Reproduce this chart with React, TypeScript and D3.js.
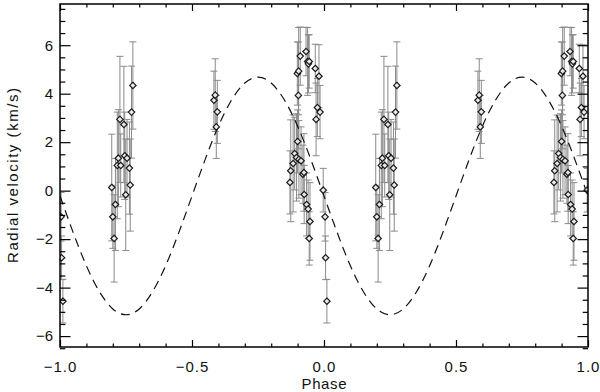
import { useEffect, useRef } from 'react'
import * as d3 from 'd3'

// observations, folded on phase 0..1 (drawn at phase and phase - 1)
const obsPhase = [
  0.196, 0.200, 0.205, 0.210, 0.217, 0.221, 0.227, 0.230, 0.242, 0.245, 0.249, 0.254, 0.263, 0.266, 0.271, 0.276,
  0.583, 0.588, 0.592, 0.596,
  0.871, 0.874, 0.883, 0.889, 0.896, 0.899, 0.900, 0.903, 0.904, 0.905, 0.910, 0.913, 0.920, 0.924, 0.925,
  0.932, 0.934, 0.938, 0.940, 0.941, 0.944, 0.944, 0.947, 0.967, 0.970, 0.975, 0.981, 0.985, 0.997,
  0.004, 0.006, 0.011,
]
const obsVel = [
  0.13, -1.08, -1.97, -0.57, 1.04, 1.34, 2.94, 1.04, 2.73, 1.44, -0.17, 1.34, 0.93, 0.23, 3.24, 4.34,
  3.73, 3.94, 2.63, 3.25,
  0.34, 0.82, 1.12, 1.53, 1.37, 4.83, 2.03, 3.93, 4.93, 1.29, 5.55, 1.23, 0.68, 0.75, -0.16,
  5.74, -0.57, 5.33, -0.76, 5.23, 5.33, -1.97, -1.27, 5.04, 2.94, 3.43, 4.72, 3.24, 0.02,
  -1.08, -2.77, -4.56,
]
const obsErr = [
  2.2, 1.3, 1.8, 1.9, 2.2, 2.0, 2.6, 1.3, 2.4, 1.8, 2.3, 1.6, 1.9, 1.9, 1.9, 1.8,
  1.2, 1.5, 1.3, 1.3,
  1.3, 2.1, 2.0, 1.5, 1.8, 1.3, 1.3, 2.2, 1.8, 1.6, 1.2, 1.4, 1.2, 1.6, 1.2,
  1.0, 1.3, 1.4, 1.2, 1.2, 1.1, 1.1, 1.6, 1.0, 1.5, 1.2, 1.3, 1.1, 0.9,
  1.0, 0.9, 0.9,
]

// fitted orbit, one period
const modelPhase = [0, 0.05, 0.1, 0.15, 0.2, 0.25, 0.3, 0.35, 0.4, 0.45, 0.5, 0.55, 0.6, 0.65, 0.7, 0.75, 0.8, 0.85, 0.9, 0.95, 1.0]
const modelVel = [-0.22, -1.73, -3.10, -4.18, -4.88, -5.12, -4.88, -4.18, -3.10, -1.73, -0.22, 1.29, 2.66, 3.74, 4.44, 4.68, 4.44, 3.74, 2.66, 1.29, -0.22]

const xTicks = [-1, -0.5, 0, 0.5, 1]
const yTicks = [-6, -4, -2, 0, 2, 4, 6]

const FONT = '"Liberation Sans", Arial, sans-serif'

export default function App() {
  const svgRef = useRef(null)

  useEffect(() => {
    if (!svgRef.current) return
    const svg = d3.select(svgRef.current)
    svg.selectAll('*').remove()

    const W = 600, H = 392
    const m = { top: 4, right: 12, bottom: 45, left: 60 }
    const iW = W - m.left - m.right
    const iH = H - m.top - m.bottom

    const x = d3.scaleLinear().domain([-1, 1]).range([0, iW])
    const y = d3.scaleLinear().domain([-6.45, 7.7]).range([iH, 0])

    const g = svg.append('g').attr('transform', `translate(${m.left},${m.top})`)

    g.append('clipPath').attr('id', 'plotclip')
      .append('rect').attr('width', iW).attr('height', iH)

    const plot = g.append('g').attr('clip-path', 'url(#plotclip)')

    // both folded copies
    const pts = []
    obsPhase.forEach((p, i) => {
      ;[p, p - 1].forEach(ph => pts.push({ ph, v: obsVel[i], e: obsErr[i] }))
    })

    // error bars
    const cap = 3.5
    pts.forEach(d => {
      const cx = x(d.ph)
      const bar = plot.append('g').attr('stroke', '#8a8a8a').attr('stroke-width', 1)
      bar.append('line').attr('x1', cx).attr('x2', cx).attr('y1', y(d.v - d.e)).attr('y2', y(d.v + d.e))
      bar.append('line').attr('x1', cx - cap).attr('x2', cx + cap).attr('y1', y(d.v + d.e)).attr('y2', y(d.v + d.e))
      bar.append('line').attr('x1', cx - cap).attr('x2', cx + cap).attr('y1', y(d.v - d.e)).attr('y2', y(d.v - d.e))
    })

    // model curve over two periods
    const model = [
      ...modelPhase.map((p, i) => [p - 1, modelVel[i]]),
      ...modelPhase.slice(1).map((p, i) => [p, modelVel[i + 1]]),
    ]
    const line = d3.line().x(d => x(d[0])).y(d => y(d[1])).curve(d3.curveNatural)
    plot.append('path').attr('d', line(model))
      .attr('fill', 'none').attr('stroke', '#111').attr('stroke-width', 1.2)
      .attr('stroke-dasharray', '9,6')

    // diamonds
    const s = 3.2
    pts.forEach(d => {
      const cx = x(d.ph), cy = y(d.v)
      plot.append('polygon')
        .attr('points', `${cx},${cy - s} ${cx + s},${cy} ${cx},${cy + s} ${cx - s},${cy}`)
        .attr('fill', '#e8e8e8').attr('stroke', '#1a1a1a').attr('stroke-width', 1.2)
    })

    const styleAxis = ax => {
      ax.select('.domain').remove()
      ax.selectAll('line').attr('stroke', '#000').attr('stroke-width', 1.2)
      ax.selectAll('text').attr('fill', '#111').attr('font-size', 15).attr('font-family', FONT)
    }

    const fmt = d3.format('.1f')
    const xMinor = d3.range(-10, 11).map(k => k / 10).filter(v => Math.abs(v * 2 - Math.round(v * 2)) > 1e-6)
    const yMinor = d3.range(-13, 16).map(k => k / 2).filter(v => v % 2 !== 0)

    // bottom
    g.append('g').attr('transform', `translate(0,${iH})`)
      .call(d3.axisBottom(x).tickValues(xTicks).tickSize(-7).tickPadding(14).tickFormat(fmt))
      .call(styleAxis)
      .call(ax => ax.selectAll('text').attr('letter-spacing', 1))
    g.append('g').attr('transform', `translate(0,${iH})`)
      .call(d3.axisBottom(x).tickValues(xMinor).tickSize(-3.5).tickFormat(() => ''))
      .call(styleAxis)
    // top
    g.append('g')
      .call(d3.axisTop(x).tickValues(xTicks).tickSize(-7).tickFormat(() => ''))
      .call(styleAxis)
    g.append('g')
      .call(d3.axisTop(x).tickValues(xMinor).tickSize(-3.5).tickFormat(() => ''))
      .call(styleAxis)
    // left
    g.append('g')
      .call(d3.axisLeft(y).tickValues(yTicks).tickSize(-10.5).tickPadding(7).tickFormat(d3.format('d')))
      .call(styleAxis)
    g.append('g')
      .call(d3.axisLeft(y).tickValues(yMinor).tickSize(-5.3).tickFormat(() => ''))
      .call(styleAxis)
    // right
    g.append('g').attr('transform', `translate(${iW},0)`)
      .call(d3.axisRight(y).tickValues(yTicks).tickSize(-10.5).tickFormat(() => ''))
      .call(styleAxis)
    g.append('g').attr('transform', `translate(${iW},0)`)
      .call(d3.axisRight(y).tickValues(yMinor).tickSize(-5.3).tickFormat(() => ''))
      .call(styleAxis)

    // frame
    g.append('rect').attr('width', iW).attr('height', iH)
      .attr('fill', 'none').attr('stroke', '#000').attr('stroke-width', 1.5)

    // axis titles
    g.append('text')
      .attr('x', iW / 2).attr('y', iH + 42)
      .attr('text-anchor', 'middle').attr('fill', '#111')
      .attr('font-size', 15).attr('font-family', FONT)
      .attr('textLength', 45).attr('lengthAdjust', 'spacing')
      .text('Phase')
    g.append('text')
      .attr('transform', `translate(${-m.left + 17.5},${iH / 2}) rotate(-90)`)
      .attr('text-anchor', 'middle').attr('fill', '#111')
      .attr('font-size', 15).attr('font-family', FONT)
      .attr('textLength', 175).attr('lengthAdjust', 'spacing')
      .text('Radial velocity (km/s)')
  }, [])

  return (
    <svg ref={svgRef} width={600} height={392}
      style={{ position: 'absolute', left: 0, top: 0, background: '#fff' }} />
  )
}
